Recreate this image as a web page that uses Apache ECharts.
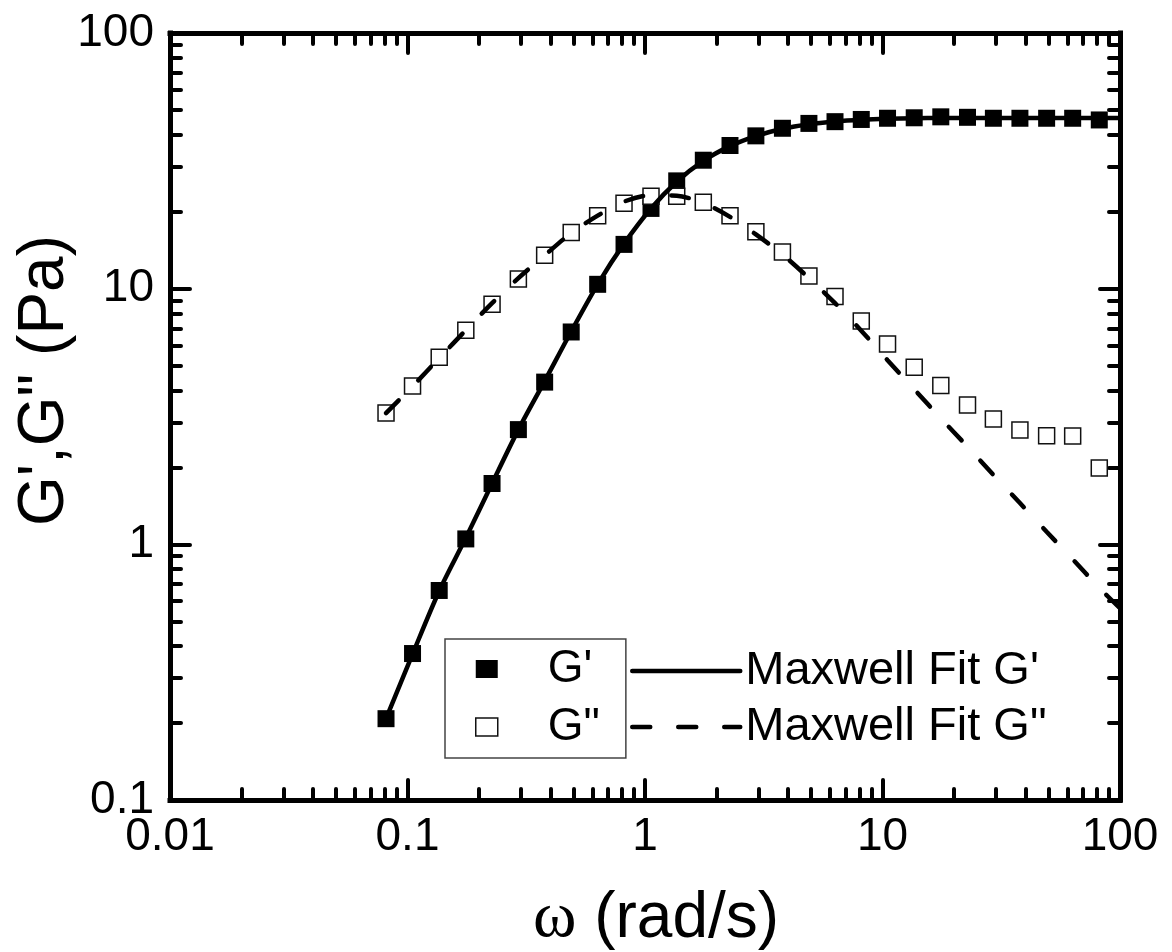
<!DOCTYPE html>
<html>
<head>
<meta charset="utf-8">
<script src="https://cdn.jsdelivr.net/npm/echarts@6/dist/echarts.min.js"></script>
<style>
  html, body { margin: 0; padding: 0; background: #fff; }
  #chart { width: 1172px; height: 952px; }
</style>
</head>
<body>
<div id="chart"></div>
<script>
// measured data (rad/s, Pa)
const omega = [0.0812, 0.105, 0.136, 0.176, 0.227, 0.293, 0.378, 0.489, 0.632, 0.816,
  1.06, 1.36, 1.76, 2.28, 2.93, 3.79, 4.90, 6.31, 8.14, 10.5,
  13.6, 17.6, 22.8, 29.3, 37.9, 49.1, 63.2, 81.8]
const gPrime = [0.208, 0.374, 0.66, 1.05, 1.73, 2.81, 4.31, 6.77, 10.4, 14.9,
  20.6, 26.4, 31.8, 36.3, 39.6, 42.4, 44.3, 45.0, 45.9, 46.4,
  46.6, 47.0, 46.8, 46.4, 46.4, 46.4, 46.4, 45.7]
const gDouble = [3.26, 4.16, 5.39, 6.88, 8.70, 10.9, 13.5, 16.6, 19.3, 21.6,
  23.0, 23.0, 21.8, 19.3, 16.7, 13.9, 11.2, 9.32, 7.48, 6.08,
  4.93, 4.18, 3.51, 3.09, 2.80, 2.66, 2.65, 1.99]

// Maxwell fit curves
const fitOmega = [0.0812, 0.105, 0.136, 0.176, 0.227, 0.293, 0.378, 0.489, 0.632, 0.816,
  1.06, 1.36, 1.76, 2.28, 2.93, 3.79, 4.90, 6.31, 8.14, 10.5,
  13.6, 17.6, 22.8, 29.3, 37.9, 49.1, 63.2, 81.8, 100]
const fitGp = [0.208, 0.372, 0.657, 1.06, 1.73, 2.81, 4.35, 6.8, 10.4, 15.0,
  20.6, 26.2, 31.6, 36.1, 39.5, 42.2, 44.0, 45.1, 45.8, 46.2,
  46.4, 46.5, 46.5, 46.5, 46.5, 46.5, 46.5, 46.5, 46.5]
const fitGpp = [3.26, 4.15, 5.35, 6.88, 8.78, 11.0, 13.5, 16.5, 19.3, 21.9,
  23.2, 23.1, 21.6, 19.1, 16.3, 13.6, 11.0, 8.78, 6.85, 5.25,
  4.04, 3.11, 2.41, 1.87, 1.45, 1.12, 0.874, 0.676, 0.562]

// minor tick positions
const xMinor = [0.02, 0.03, 0.04, 0.05, 0.06, 0.07, 0.08, 0.09,
  0.2, 0.3, 0.4, 0.5, 0.6, 0.7, 0.8, 0.9,
  2, 3, 4, 5, 6, 7, 8, 9,
  20, 30, 40, 50, 60, 70, 80, 90]
const yMinor = [0.2, 0.3, 0.4, 0.5, 0.6, 0.7, 0.8, 0.9,
  2, 3, 4, 5, 6, 7, 8, 9,
  20, 30, 40, 50, 60, 70, 80, 90]

const FONT = 'Liberation Sans'
const DASH = [18, 28]
const zip = (xs, ys) => xs.map((x, i) => [x, ys[i]])

const axisLine = { show: true, lineStyle: { color: '#000', width: 5, cap: 'square' } }
const majorTick = { show: true, inside: true, length: 20, lineStyle: { color: '#000', width: 4, cap: 'round' } }
const minorTickStyle = (vals) => ({ show: true, inside: true, length: 11, customValues: vals, lineStyle: { color: '#000', width: 4, cap: 'round' } })

const xBase = { type: 'log', logBase: 10, min: 0.01, max: 100, splitLine: { show: false } }
const yBase = { type: 'log', logBase: 10, min: 0.1, max: 100, splitLine: { show: false } }

const chart = echarts.init(document.getElementById('chart'))

const option = {
  backgroundColor: '#fff',
  animation: false,
  grid: { left: 170, right: 52, top: 33, bottom: 152, containLabel: false, outerBoundsMode: 'none' },
  xAxis: [
    {
      ...xBase, position: 'bottom',
      axisLine, axisTick: majorTick,
      axisLabel: { color: '#000', fontSize: 46, fontFamily: FONT, margin: 14 },
      name: '{w|ω} (rad/s)',
      nameLocation: 'middle',
      nameGap: 84,
      nameTextStyle: {
        color: '#000', fontSize: 64, fontFamily: FONT, lineHeight: 70, padding: [0, 0, 0, 22],
        rich: { w: { fontFamily: 'Liberation Serif', fontSize: 66, color: '#000', lineHeight: 70 } }
      }
    },
    { ...xBase, position: 'top', axisLine, axisTick: majorTick, axisLabel: { show: false } },
    { ...xBase, position: 'bottom', axisLine: { show: false }, axisTick: minorTickStyle(xMinor), axisLabel: { show: false } },
    { ...xBase, position: 'top', axisLine: { show: false }, axisTick: minorTickStyle(xMinor), axisLabel: { show: false } }
  ],
  yAxis: [
    {
      ...yBase, position: 'left',
      axisLine, axisTick: majorTick,
      axisLabel: { color: '#000', fontSize: 46, fontFamily: FONT, margin: 16 },
      name: 'G\',G" (Pa)',
      nameLocation: 'middle',
      nameGap: 90,
      nameMoveOverlap: false,
      nameTextStyle: { color: '#000', fontSize: 64, fontFamily: FONT, lineHeight: 70, padding: [0, 0, 0, 72] }
    },
    { ...yBase, position: 'right', axisLine, axisTick: majorTick, axisLabel: { show: false } },
    { ...yBase, position: 'left', axisLine: { show: false }, axisTick: minorTickStyle(yMinor), axisLabel: { show: false } },
    { ...yBase, position: 'right', axisLine: { show: false }, axisTick: minorTickStyle(yMinor), axisLabel: { show: false } }
  ],
  legend: [
    {
      // boxed legend for the measured points
      data: [
        { name: 'G\'', icon: 'rect', itemStyle: { color: '#000', borderWidth: 0, opacity: 1 } },
        { name: 'G"', icon: 'rect', itemStyle: { color: '#fff', borderColor: '#111', borderWidth: 1.5, opacity: 1 } }
      ],
      orient: 'vertical',
      left: 445,
      top: 639,
      itemWidth: 22,
      itemHeight: 18,
      itemGap: 8,
      padding: [5, 26, 6, 30],
      borderColor: '#444',
      borderWidth: 1.5,
      selectedMode: false,
      textStyle: { color: '#000', fontSize: 46, fontFamily: FONT, lineHeight: 50, padding: [0, 0, 0, 45] }
    },
    {
      // fit curves, outside the box
      data: [
        { name: 'Maxwell Fit G\'', itemStyle: { opacity: 0 }, lineStyle: { color: '#000', width: 4.5, type: 'solid', cap: 'round' } },
        { name: 'Maxwell Fit G"', itemStyle: { opacity: 0 }, lineStyle: { color: '#000', width: 4.5, type: DASH, cap: 'round' } }
      ],
      orient: 'vertical',
      left: 630,
      top: 646,
      itemWidth: 108,
      itemHeight: 14,
      itemGap: 6,
      padding: 0,
      selectedMode: false,
      textStyle: { color: '#000', fontSize: 47, fontFamily: FONT, lineHeight: 50 }
    }
  ],
  series: [
    {
      name: 'G\'',
      type: 'scatter',
      xAxisIndex: 0, yAxisIndex: 0,
      symbol: 'rect',
      symbolSize: 17,
      itemStyle: { color: '#000', opacity: 1 },
      data: zip(omega, gPrime)
    },
    {
      name: 'G"',
      type: 'scatter',
      xAxisIndex: 0, yAxisIndex: 0,
      symbol: 'rect',
      symbolSize: 16,
      itemStyle: { color: '#fff', borderColor: '#111', borderWidth: 1.5, opacity: 1 },
      data: zip(omega, gDouble)
    },
    {
      name: 'Maxwell Fit G\'',
      type: 'line',
      xAxisIndex: 0, yAxisIndex: 0,
      symbol: 'none',
      smooth: 0.3,
      itemStyle: { color: '#000' },
      lineStyle: { color: '#000', width: 4.5, cap: 'round' },
      data: zip(fitOmega, fitGp)
    },
    {
      name: 'Maxwell Fit G"',
      type: 'line',
      xAxisIndex: 0, yAxisIndex: 0,
      symbol: 'none',
      smooth: 0.3,
      itemStyle: { color: '#000' },
      lineStyle: { color: '#000', width: 4.5, type: DASH, cap: 'round' },
      data: zip(fitOmega, fitGpp)
    }
  ]
}

chart.setOption(option)
</script>
</body>
</html>
